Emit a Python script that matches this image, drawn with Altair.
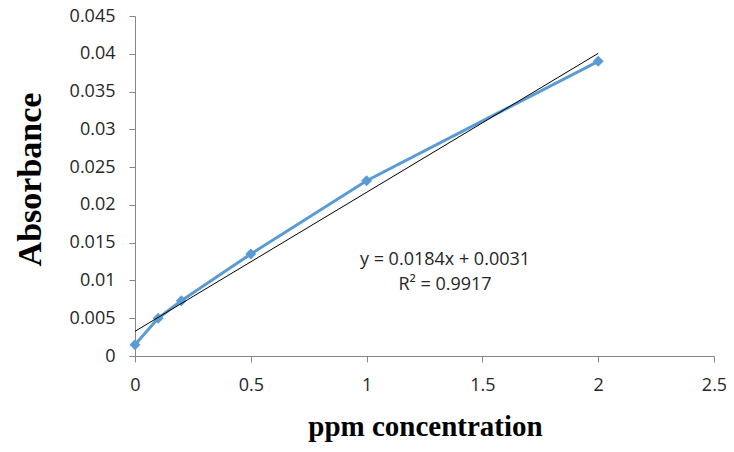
import altair as alt
import pandas as pd

# data
conc = [0, 0.1, 0.2, 0.5, 1, 2]
absorb = [0.0015, 0.005, 0.0073, 0.0135, 0.0232, 0.039]
x_ticks = [0, 0.5, 1, 1.5, 2, 2.5]
y_ticks = [0, 0.005, 0.01, 0.015, 0.02, 0.025, 0.03, 0.035, 0.04, 0.045]
eq_lines = ["y = 0.0184x + 0.0031", "R² = 0.9917"]

df = pd.DataFrame({"x": conc, "y": absorb})

AXIS_COLOR = "#868686"
LABEL_FONT = "Open Sans"

xs = alt.Scale(domain=[0, 2.5], nice=False, zero=False)
ys = alt.Scale(domain=[0, 0.045], nice=False, zero=False)

xaxis = alt.Axis(
    values=x_ticks, format="~g", grid=False, title="ppm concentration",
    titleFont="Liberation Serif", titleFontSize=29, titleFontWeight="bold",
    titleColor="#000000", titleX=290, titleY=70, titleBaseline="middle",
    titleAlign="center", labelPadding=14, labelFlush=False, labelOverlap=False,
)
yaxis = alt.Axis(
    values=y_ticks, format="~g", grid=False, title="Absorbance",
    titleFont="Liberation Serif", titleFontSize=34, titleFontWeight="bold",
    titleColor="#000000", titleX=-105, titleY=163, titleAngle=270,
    titleBaseline="middle", titleAlign="center", labelPadding=14, labelFlush=False,
    labelOverlap=False,
)

X = alt.X("x:Q", scale=xs, axis=xaxis)
Y = alt.Y("y:Q", scale=ys, axis=yaxis)

base = alt.Chart(df)

series = base.mark_line(color="#5B9BD5", strokeWidth=3).encode(x=X, y=Y)
points = base.mark_point(
    shape="diamond", filled=True, color="#5B9BD5", size=120, opacity=1
).encode(x=X, y=Y)
trend = base.transform_regression("x", "y", extent=[0, 2]).mark_line(
    color="#000000", strokeWidth=1
).encode(x=X, y=Y)


def eq_text(line, ypix):
    return alt.Chart(pd.DataFrame({"t": [line]})).mark_text(
        font=LABEL_FONT, fontSize=18, color="#262626", align="center", baseline="middle"
    ).encode(x=alt.value(310), y=alt.value(ypix), text="t:N")


text1 = eq_text(eq_lines[0], 244)
text2 = eq_text(eq_lines[1], 269)

chart = alt.layer(series, points, trend, text1, text2).properties(
    width=579, height=340,
    autosize="none",
    padding={"left": 127, "top": 8, "right": 12, "bottom": 88},
).configure_view(stroke=None).configure_axis(
    domainColor=AXIS_COLOR, tickColor=AXIS_COLOR, tickSize=6, domainWidth=1,
    labelFont=LABEL_FONT, labelFontSize=18, labelColor="#262626",
)

chart.save("out.html", embed_options={"renderer": "svg", "actions": False})
